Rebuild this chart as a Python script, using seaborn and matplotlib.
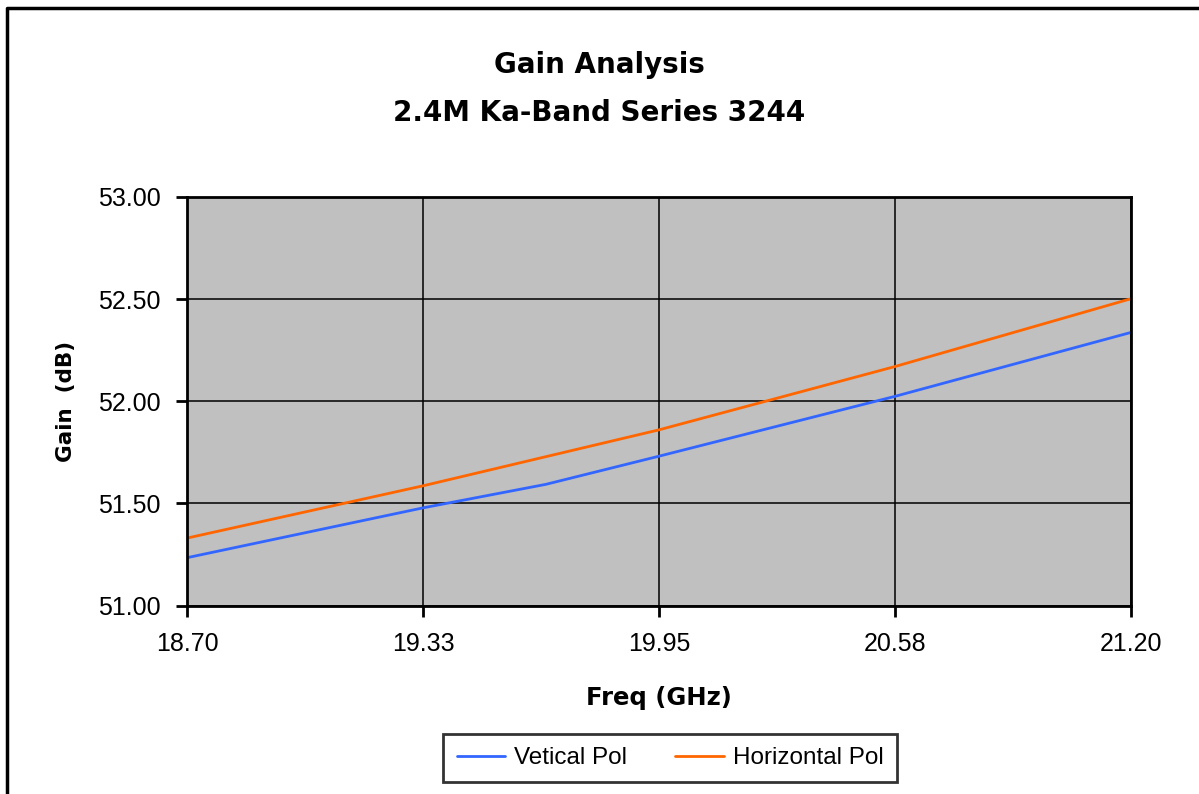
import pandas as pd
import matplotlib.pyplot as plt
import seaborn as sns
from matplotlib.lines import Line2D

# values
freq_v = [18.70, 19.325, 19.65, 19.95, 20.575, 21.20]
gain_v = [51.234, 51.478, 51.593, 51.731, 52.024, 52.337]
freq_h = [18.70, 19.325, 19.95, 20.575, 21.20]
gain_h = [51.330, 51.586, 51.860, 52.170, 52.502]
xticks = [18.70, 19.325, 19.95, 20.575, 21.20]
xticklabels = ['18.70', '19.33', '19.95', '20.58', '21.20']
yticks = [51.0, 51.5, 52.0, 52.5, 53.0]

df = pd.concat([
    pd.DataFrame({'freq': freq_v, 'gain': gain_v, 'pol': 'Vetical Pol'}),
    pd.DataFrame({'freq': freq_h, 'gain': gain_h, 'pol': 'Horizontal Pol'}),
])

sns.set_theme(style="white")
plt.rcParams["font.family"] = ["Liberation Sans", "DejaVu Sans"]
plt.rcParams["text.color"] = "black"
plt.rcParams["axes.labelcolor"] = "black"

f = plt.figure(figsize=(11.99, 7.94), dpi=100)
ax = f.add_axes([187/1199, 1-605.5/794, (1131-187)/1199, (605.5-197)/794])
ax.set_facecolor('#C0C0C0')

sns.lineplot(data=df, x='freq', y='gain', hue='pol', sort=False, estimator=None,
             palette={'Vetical Pol': '#3366FF', 'Horizontal Pol': '#FF6600'},
             linewidth=2, ax=ax, legend=False)

ax.set_xlim(18.70, 21.20)
ax.set_ylim(51.0, 53.0)
ax.set_xticks(xticks)
ax.set_xticklabels(xticklabels)
ax.set_yticks(yticks)
ax.set_yticklabels(['%.2f' % v for v in yticks])
ax.grid(True, color='black', linewidth=1.1)
ax.set_axisbelow(True)
for s in ax.spines.values():
    s.set_color('black')
    s.set_linewidth(2)
ax.tick_params(axis='both', direction='out', length=8, width=2, color='black',
               labelsize=18, labelcolor='black', bottom=True, left=True)
ax.tick_params(axis='x', pad=11)
ax.tick_params(axis='y', pad=11)

ax.set_xlabel('Freq (GHz)', fontsize=17.5, fontweight='bold', family='DejaVu Sans', labelpad=22)
ax.set_ylabel('Gain  (dB)', fontsize=15.5, fontweight='bold', family='DejaVu Sans', labelpad=16)

f.text(0.5, 1-65/794, 'Gain Analysis', ha='center', va='center',
       fontsize=20, fontweight='bold', family='DejaVu Sans')
f.text(0.5, 1-113/794, '2.4M Ka-Band Series 3244', ha='center', va='center',
       fontsize=20, fontweight='bold', family='DejaVu Sans')

handles = [Line2D([0], [0], color='#3366FF', linewidth=2, label='Vetical Pol'),
           Line2D([0], [0], color='#FF6600', linewidth=2, label='Horizontal Pol')]
leg = f.legend(handles=handles, loc='center', bbox_to_anchor=(670/1199, 1-758/794),
               ncol=2, fontsize=17.5, frameon=True, fancybox=False, handlelength=2.0,
               handletextpad=0.35, columnspacing=2.0, borderpad=0.55, borderaxespad=0)
leg.get_frame().set_edgecolor('black')
leg.get_frame().set_linewidth(2)

# outer chart border (top and left)
f.add_artist(Line2D([7/1199, 7/1199, 1], [0, 1-7.5/794, 1-7.5/794],
                    transform=f.transFigure, color='black', linewidth=2.5))

f.savefig('out.png', dpi=100)
